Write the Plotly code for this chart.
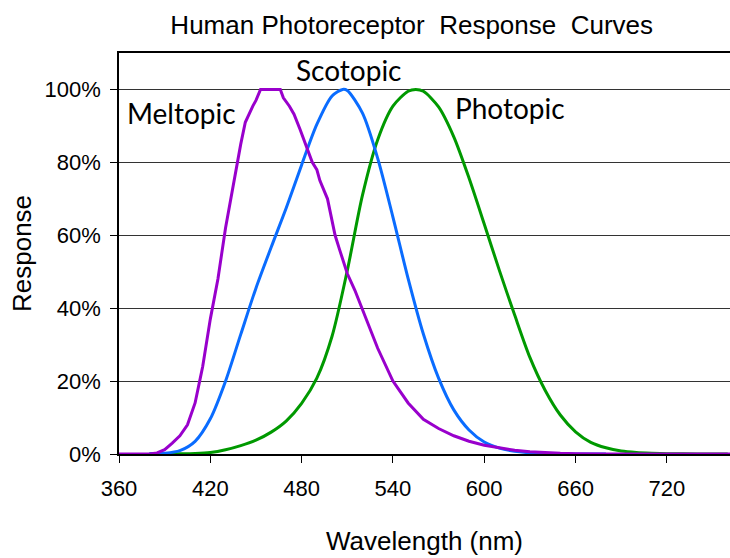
import plotly.graph_objects as go

# wavelengths (nm) and relative response (0-1)
photopic_nm = [380, 390, 400, 410, 420, 430, 440, 450, 460, 470, 480, 490, 500, 510, 520,
               530, 540, 550, 555, 560, 570, 580, 590, 600, 610, 620, 630, 640, 650, 660,
               670, 680, 690, 700, 710, 720, 740, 760]
photopic = [0.00004, 0.00012, 0.0004, 0.0012, 0.004, 0.0116, 0.023, 0.038, 0.060, 0.091,
            0.139, 0.208, 0.323, 0.503, 0.710, 0.862, 0.954, 0.995, 1.0, 0.995, 0.952,
            0.870, 0.757, 0.631, 0.503, 0.381, 0.265, 0.175, 0.107, 0.061, 0.032, 0.017,
            0.0082, 0.0041, 0.0021, 0.001, 0.00025, 0.00006]

scotopic_nm = [380, 390, 400, 410, 420, 430, 440, 450, 460, 470, 480, 490, 500, 507, 510,
               520, 530, 540, 550, 560, 570, 580, 590, 600, 610, 620, 630, 640, 650, 660, 680]
scotopic = [0.0006, 0.0022, 0.0093, 0.0348, 0.0966, 0.1998, 0.3281, 0.455, 0.567, 0.676,
            0.793, 0.904, 0.982, 1.0, 0.997, 0.935, 0.811, 0.650, 0.481, 0.329, 0.208,
            0.121, 0.066, 0.033, 0.016, 0.0074, 0.0033, 0.0015, 0.0007, 0.0003, 0.0]

meltopic_nm = [360, 380, 385, 390, 395, 400, 405, 410, 413, 415, 420, 425, 430, 435, 440,
               443, 445, 448, 450, 453, 466, 468, 472, 475, 479, 483, 487, 490, 492, 497,
               502, 505, 510, 515, 520, 530, 540, 550, 560, 570, 580, 590, 600, 610, 620,
               630, 640, 650, 660, 680, 780]
meltopic = [0.0, 0.0, 0.003, 0.012, 0.03, 0.05, 0.08, 0.14, 0.20, 0.24, 0.37, 0.48, 0.62,
            0.74, 0.85, 0.91, 0.93, 0.955, 0.97, 1.0, 1.0, 0.977, 0.954, 0.932, 0.89, 0.845,
            0.80, 0.78, 0.75, 0.70, 0.60, 0.56, 0.495, 0.449, 0.395, 0.29, 0.20, 0.14,
            0.095, 0.07, 0.05, 0.035, 0.024, 0.016, 0.01, 0.006, 0.003, 0.002, 0.001, 0.0, 0.0]

x_ticks = [360, 420, 480, 540, 600, 660, 720]
y_ticks = [0, 0.2, 0.4, 0.6, 0.8, 1.0]
y_labels = ['0%', '20%', '40%', '60%', '80%', '100%']

fig = go.Figure()
fig.add_trace(go.Scatter(x=photopic_nm, y=photopic, mode='lines', name='Photopic',
                         line=dict(color='#009900', width=3, shape='spline', smoothing=0.8)))
fig.add_trace(go.Scatter(x=scotopic_nm, y=scotopic, mode='lines', name='Scotopic',
                         line=dict(color='#0a6cff', width=3, shape='spline', smoothing=0.8)))
fig.add_trace(go.Scatter(x=meltopic_nm, y=meltopic, mode='lines', name='Meltopic',
                         line=dict(color='#9900cc', width=3)))

lbl_font = dict(family='Lato', size=28, color='black')
fig.add_annotation(x=401, y=0.935, text='Meltopic', showarrow=False, font=lbl_font)
fig.add_annotation(x=511, y=1.053, text='Scotopic', showarrow=False, font=lbl_font)
fig.add_annotation(x=617, y=0.949, text='Photopic', showarrow=False, font=lbl_font)

fig.update_layout(
    width=730, height=558,
    margin=dict(l=119, r=0, t=53, b=104),
    paper_bgcolor='white', plot_bgcolor='white',
    showlegend=False,
    font=dict(family='Liberation Sans, Arial', color='black'),
    title=dict(text='Human Photoreceptor  Response  Curves', x=0.564, xref='container',
               xanchor='center', y=0.955, yref='container', yanchor='middle',
               font=dict(size=26)),
    xaxis=dict(range=[360, 761.5], tickvals=x_ticks, showgrid=False, zeroline=False,
               showline=True, linecolor='black', linewidth=1.5, mirror=True,
               ticks='outside', ticklen=7, tickcolor='black', tickfont=dict(size=22),
               ticklabelstandoff=7,
               title=dict(text='Wavelength (nm)', font=dict(size=26), standoff=32)),
    yaxis=dict(range=[0, 1.10], tickvals=y_ticks, ticktext=y_labels,
               showgrid=True, gridcolor='#333333', gridwidth=1, zeroline=False,
               showline=True, linecolor='black', linewidth=1.5,
               ticks='outside', ticklen=7, tickcolor='black', tickfont=dict(size=22),
               ticklabelstandoff=5,
               title=dict(text='Response', font=dict(size=26), standoff=5)),
)

# drop the default 8px page margin so the figure fills the window
fig.write_html("out.html", config={'displayModeBar': False},
               post_script="document.body.style.margin = '0px';")
